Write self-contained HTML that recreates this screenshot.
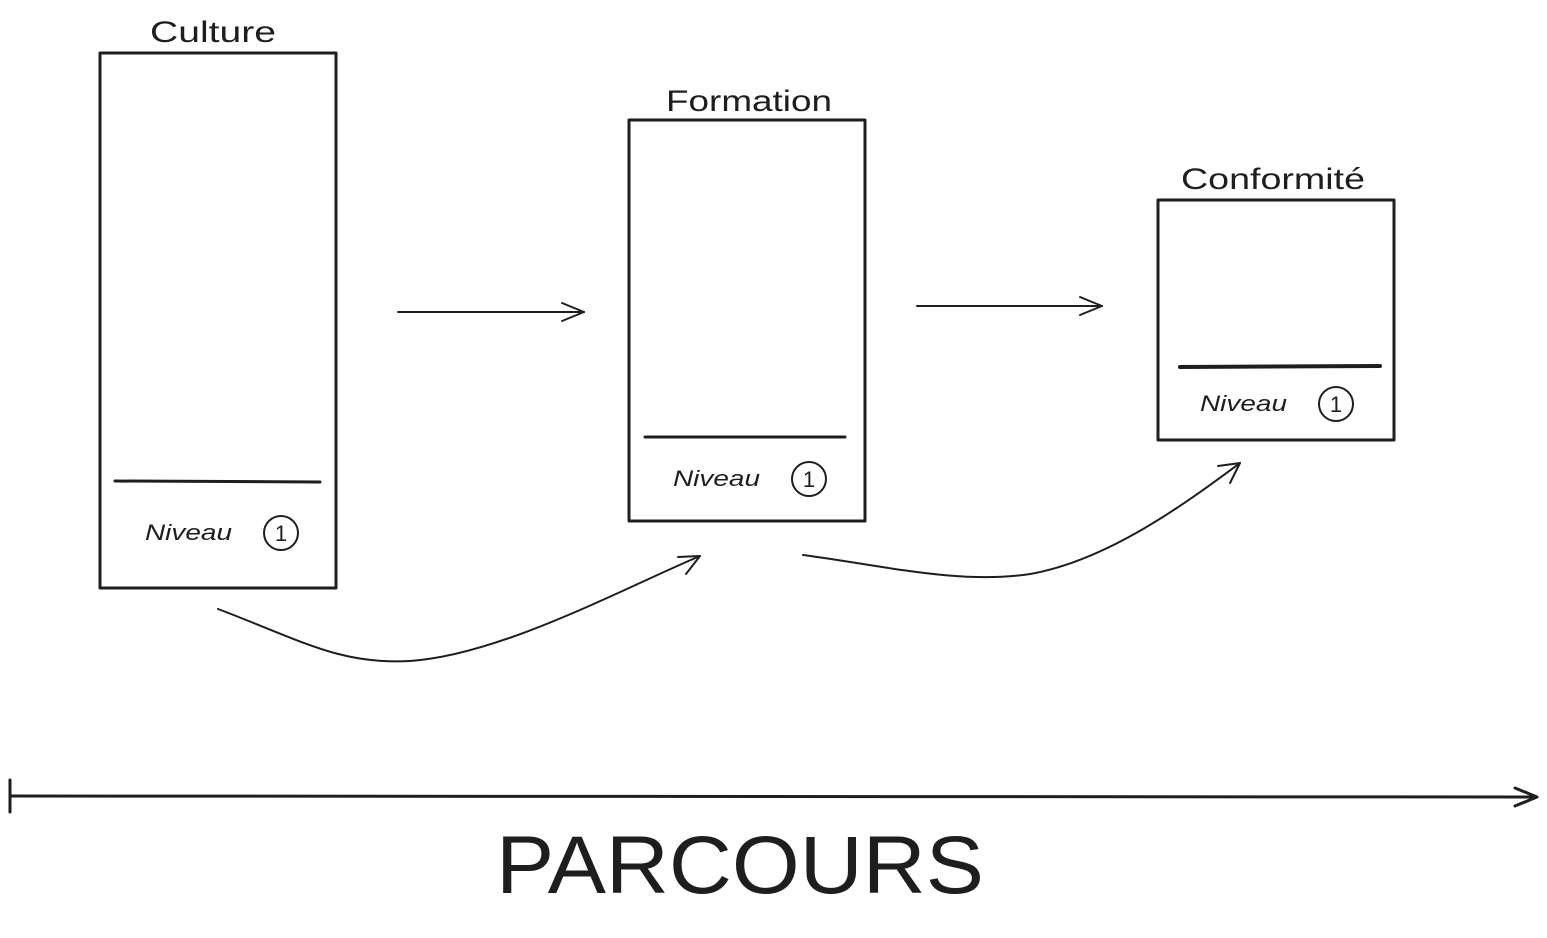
<!DOCTYPE html>
<html><head><meta charset="utf-8"><style>
html,body{margin:0;padding:0;background:#fff;}
svg{display:block}
text{font-family:"Liberation Sans",sans-serif;fill:#1e1e1e}
</style></head><body>
<svg width="1547" height="938" viewBox="0 0 1547 938" xmlns="http://www.w3.org/2000/svg">
<g fill="none" stroke="#1e1e1e" stroke-width="3" stroke-linecap="round" stroke-linejoin="round">
<rect x="100" y="53" width="236" height="535"/>
<line x1="115" y1="481" x2="320" y2="482"/>
<circle cx="281" cy="533" r="17" stroke-width="2"/>
<rect x="629" y="120" width="236" height="401"/>
<line x1="645" y1="437" x2="845" y2="437"/>
<circle cx="809" cy="479" r="17" stroke-width="2"/>
<rect x="1158" y="200" width="236" height="240"/>
<line x1="1180" y1="367" x2="1380" y2="366" stroke-width="4"/>
<circle cx="1336" cy="404" r="17" stroke-width="2"/>
<g stroke-width="2">
<line x1="398" y1="312" x2="584" y2="312"/>
<polyline points="562,303 584,312 562,321"/>
<line x1="917" y1="306" x2="1102" y2="306"/>
<polyline points="1080,297 1102,306 1080,315"/>
<path d="M218,609 C300,640 340,665 410,661 C500,655 620,590 700,556"/>
<polyline points="678,557 700,556 686,574"/>
<path d="M803,555 C880,565 960,585 1030,574 C1110,560 1190,500 1240,463"/>
<polyline points="1218,466 1240,463 1230,483"/>
</g>
<line x1="10" y1="796" x2="1536" y2="797"/>
<line x1="10" y1="780" x2="10" y2="812"/>
<polyline points="1515,788 1537,797 1515,806"/>
</g>
<g font-size="30" lengthAdjust="spacingAndGlyphs">
<text x="150" y="42" textLength="126" lengthAdjust="spacingAndGlyphs">Culture</text>
<text x="666" y="111" textLength="166" lengthAdjust="spacingAndGlyphs">Formation</text>
<text x="1181" y="189" textLength="184" lengthAdjust="spacingAndGlyphs">Conformité</text>
</g>
<g font-size="22" font-style="italic">
<text x="145" y="540" textLength="87" lengthAdjust="spacingAndGlyphs">Niveau</text>
<text x="673" y="486" textLength="87" lengthAdjust="spacingAndGlyphs">Niveau</text>
<text x="1200" y="411" textLength="87" lengthAdjust="spacingAndGlyphs">Niveau</text>
</g>
<g font-size="22" text-anchor="middle">
<text x="281" y="541">1</text>
<text x="809" y="487">1</text>
<text x="1336" y="412">1</text>
</g>
<text x="496" y="893" font-size="82" textLength="488" lengthAdjust="spacingAndGlyphs">PARCOURS</text>
</svg>
</body></html>
